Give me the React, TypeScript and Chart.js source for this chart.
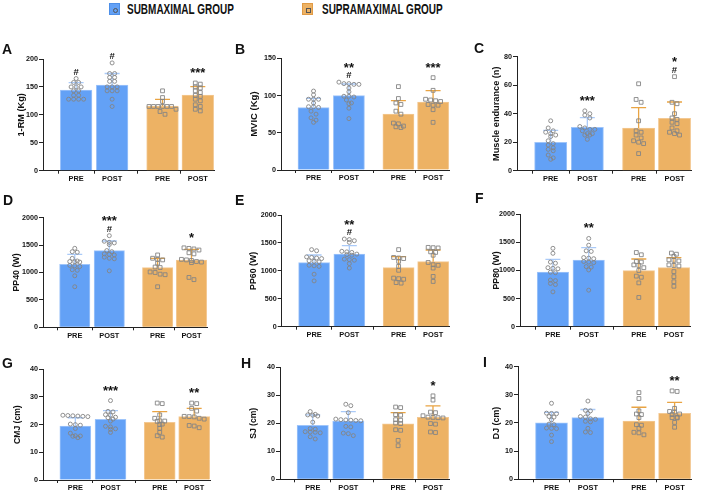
import React, { useEffect, useRef } from "react";
import { Chart, registerables } from "chart.js";

Chart.register(...registerables);

// ---------------- data ----------------
const CATEGORIES = ["PRE", "POST", "PRE", "POST"];
const X_POS = [0, 1, 2.4, 3.38];
const GROUPS = ["SUBMAXIMAL GROUP", "SUPRAMAXIMAL GROUP"];
const LETTERS = ["A", "B", "C", "D", "E", "F", "G", "H", "I"];
const Y_TITLES = ["1-RM (Kg)", "MVIC (Kg)", "Muscle endurance (n)", "PP40 (W)", "PP60 (W)", "PP80 (W)", "CMJ (cm)", "SJ (cm)", "DJ (cm)"];
const Y_MAX = [200, 150, 80, 2000, 2000, 2000, 40, 40, 40];
const Y_STEP = [50, 50, 20, 500, 500, 500, 10, 10, 10];

// A: 1-RM
const A_MEAN = [144.5, 153.4, 115.8, 135.5];
const A_SD = [13.1, 20.6, 12, 14.9];
const A_SUB_PRE = [165, 158, 158, 150, 150, 150, 143, 143, 135, 135, 128, 128, 128, 128];
const A_SUB_POST = [193, 174, 174, 167, 167, 160, 160, 150, 150, 150, 143, 143, 143, 128, 115];
const A_SUP_PRE = [143, 131, 124, 115, 115, 115, 115, 115, 115, 110, 106, 101];
const A_SUP_POST = [157, 155, 150, 148, 143, 140, 135, 133, 128, 125, 118, 115, 110, 107];
const A_MARKS = ["#", "#", "", "***"];

// B: MVIC
const B_MEAN = [83.7, 99.9, 75.2, 91.3];
const B_SD = [12.6, 15.6, 17.9, 15.3];
const B_SUB_PRE = [106, 101, 95, 95, 95, 90, 85, 85, 84, 79, 75, 70, 67, 64];
const B_SUB_POST = [118, 116, 116, 115, 115, 110, 105, 99, 99, 98, 94, 90, 89, 83, 69];
const B_SUP_PRE = [112, 96, 90, 88, 79, 75, 63, 62, 59, 58, 57];
const B_SUP_POST = [124, 107, 95, 94, 93, 92, 88, 87, 87, 81, 64];
const B_MARKS = ["", "**\n#", "", "***"];

// C: Muscle endurance
const C_MEAN = [19.9, 30.4, 29.9, 36.7];
const C_SD = [8.4, 6.8, 14.3, 11.5];
const C_SUB_PRE = [35, 30, 28, 27, 26, 25, 24, 21, 19, 18, 16, 15, 14, 11, 9, 8];
const C_SUB_POST = [42, 40, 39, 37, 31, 30, 29, 29, 28, 26, 26, 25, 25, 22];
const C_SUP_PRE = [61, 50, 48, 35, 28, 27, 25, 23, 21, 20, 19, 12];
const C_SUP_POST = [66, 48, 47, 40, 37, 36, 34, 33, 30, 28, 27, 26, 25];
const C_MARKS = ["", "***", "", "*\n#"];

// D: PP40
const D_MEAN = [1149, 1398, 1088, 1228];
const D_SD = [183, 177, 170, 195];
const D_SUB_PRE = [1441, 1380, 1370, 1258, 1210, 1200, 1195, 1190, 1130, 1120, 1110, 1050, 1040, 940, 740];
const D_SUB_POST = [1672, 1570, 1550, 1540, 1510, 1400, 1380, 1340, 1330, 1320, 1280, 1260, 1250, 1030];
const D_SUP_PRE = [1320, 1260, 1240, 1230, 1170, 1100, 1090, 1010, 1000, 970, 960, 740];
const D_SUP_POST = [1450, 1440, 1430, 1410, 1360, 1340, 1240, 1230, 1220, 1200, 1190, 1180, 910, 870];
const D_MARKS = ["", "***\n#", "", "*"];

// E: PP60
const E_MEAN = [1146, 1301, 1057, 1164];
const E_SD = [138, 150, 197, 209];
const E_SUB_PRE = [1380, 1360, 1250, 1240, 1230, 1220, 1180, 1170, 1160, 1100, 1090, 1080, 940, 820];
const E_SUB_POST = [1570, 1560, 1540, 1510, 1350, 1340, 1330, 1300, 1290, 1280, 1210, 1200, 1190, 1130, 1050];
const E_SUP_PRE = [1380, 1240, 1230, 1220, 1170, 1080, 1010, 870, 860, 850, 790, 780];
const E_SUP_POST = [1420, 1415, 1410, 1340, 1330, 1280, 1150, 1110, 1100, 1050, 900, 810];
const E_MARKS = ["", "**\n#", "", ""];

// F: PP80
const F_MEAN = [973, 1187, 997, 1050];
const F_SD = [226, 220, 208, 179];
const F_SUB_PRE = [1395, 1306, 1150, 1130, 1050, 1040, 1030, 970, 960, 830, 820, 770, 750, 620];
const F_SUB_POST = [1570, 1450, 1350, 1340, 1230, 1220, 1210, 1160, 1150, 1140, 1070, 1060, 1010, 650];
const F_SUP_PRE = [1320, 1280, 1160, 1150, 1100, 1090, 1050, 1000, 900, 880, 780, 520];
const F_SUP_POST = [1310, 1290, 1250, 1190, 1180, 1170, 1100, 1090, 1080, 980, 890, 800, 720];
const F_MARKS = ["", "**", "", ""];

// G: CMJ
const G_MEAN = [19.5, 21.9, 20.8, 22.9];
const G_SD = [3.0, 3.2, 3.9, 3.0];
const G_SUB_PRE = [23.4, 23.3, 23.2, 23.1, 23.0, 22.9, 20.2, 20.0, 19.8, 18.6, 16.9, 16.0, 15.9, 15.8, 15.3];
const G_SUB_POST = [28.7, 24.8, 24.6, 23.6, 23.4, 22.7, 22.5, 22.0, 21.3, 19.4, 19.2, 18.5, 18.3, 17.2];
const G_SUP_PRE = [27.8, 27.6, 23.5, 22.3, 21.4, 21.3, 21.2, 20.2, 20.0, 18.7, 17.2, 16.0, 15.5];
const G_SUP_POST = [27.8, 27.6, 25.9, 24.9, 23.0, 22.9, 22.8, 22.3, 22.0, 19.7, 19.5, 18.9];
const G_MARKS = ["", "***", "", "**"];

// H: SJ
const H_MEAN = [19.3, 20.8, 19.8, 22.1];
const H_SD = [3.7, 3.4, 4.0, 4.1];
const H_SUB_PRE = [24.2, 23.2, 23.0, 22.9, 22.6, 20.4, 18.1, 17.9, 17.0, 16.9, 16.8, 16.6, 15.2, 14.4];
const H_SUB_POST = [26.8, 26.3, 23.8, 21.5, 21.3, 21.2, 21.1, 21.0, 20.9, 18.9, 18.7, 16.5, 16.3, 15.6];
const H_SUP_PRE = [25.8, 25.6, 23.1, 22.9, 21.3, 21.1, 20.1, 19.9, 17.7, 17.5, 13.9, 12.0];
const H_SUP_POST = [29.8, 28.3, 24.0, 23.8, 22.7, 22.2, 22.1, 22.0, 21.9, 19.9, 19.7, 16.9, 16.7];
const H_MARKS = ["", "", "", "*"];

// I: DJ
const I_MEAN = [20.1, 21.9, 20.7, 23.4];
const I_SD = [3.7, 2.9, 4.9, 3.9];
const I_SUB_PRE = [27.0, 23.5, 23.4, 23.3, 22.3, 22.1, 21.1, 19.6, 19.4, 18.2, 18.1, 18.0, 15.7, 13.4];
const I_SUB_POST = [27.8, 24.5, 24.3, 23.4, 22.3, 22.1, 21.5, 21.3, 20.6, 20.4, 18.1, 16.8, 16.6];
const I_SUP_PRE = [30.8, 28.7, 24.3, 23.2, 23.0, 21.9, 19.4, 19.2, 18.1, 16.7, 16.5, 15.8];
const I_SUP_POST = [31.4, 31.2, 25.2, 24.1, 23.9, 23.2, 23.0, 22.0, 21.9, 21.8, 20.2, 18.5];
const I_MARKS = ["", "", "", "**"];

// ---------------- styles / layout ----------------
const FONT = '"Liberation Sans", Arial, Helvetica, sans-serif';
const BLUE = "#63a1f6";
const BLUE_EDGE = "#9fc5fa";
const ORANGE = "#edb264";
const ORANGE_EDGE = "#f3c892";
const BLUE_ERR = "#aacaf8";
const ORANGE_ERR = "#e9a443";
const PT = "#858585";
const AXIS = "#222";
const INK = "#111";
const X_MIN = -0.92;
const X_MAX = 3.83;

Chart.defaults.font.family = FONT;
Chart.defaults.color = INK;

type Layout = { left: number; top: number; w: number; h: number; leftW: number; rightPad: number; topPad: number; bottomH: number; titleX: number; titleSize: number; letterX: number; letterY: number };

const LAYOUTS: Layout[] = [
  { left: 0, top: 40, w: 236, h: 150, leftW: 43, rightPad: 22, topPad: 19, bottomH: 19.3, titleX: 21, titleSize: 9.2, letterX: 2, letterY: 44 },
  { left: 236, top: 40, w: 236, h: 150, leftW: 45, rightPad: 23, topPad: 18.3, bottomH: 20, titleX: 18, titleSize: 9.5, letterX: 235, letterY: 44 },
  { left: 472, top: 40, w: 236, h: 150, leftW: 45, rightPad: 17, topPad: 16.7, bottomH: 19.3, titleX: 24, titleSize: 9.2, letterX: 474, letterY: 43 },
  { left: 0, top: 190, w: 236, h: 150, leftW: 43, rightPad: 29, topPad: 27.7, bottomH: 12.7, titleX: 17, titleSize: 8.8, letterX: 3, letterY: 195 },
  { left: 236, top: 190, w: 236, h: 150, leftW: 45.7, rightPad: 23, topPad: 25, bottomH: 13.3, titleX: 18, titleSize: 8.8, letterX: 235, letterY: 195 },
  { left: 472, top: 190, w: 236, h: 150, leftW: 48, rightPad: 18, topPad: 24.3, bottomH: 13.3, titleX: 25, titleSize: 8.8, letterX: 475, letterY: 193 },
  { left: 0, top: 340, w: 236, h: 151, leftW: 43, rightPad: 26, topPad: 29.3, bottomH: 11, titleX: 18, titleSize: 8.6, letterX: 2, letterY: 358 },
  { left: 236, top: 340, w: 236, h: 151, leftW: 44, rightPad: 23, topPad: 27.3, bottomH: 11.7, titleX: 18, titleSize: 8.6, letterX: 241, letterY: 358 },
  { left: 472, top: 340, w: 236, h: 151, leftW: 46, rightPad: 17, topPad: 26.7, bottomH: 11.7, titleX: 25, titleSize: 8.8, letterX: 483, letterY: 357 },
];

const MEANS = [A_MEAN, B_MEAN, C_MEAN, D_MEAN, E_MEAN, F_MEAN, G_MEAN, H_MEAN, I_MEAN];
const SDS = [A_SD, B_SD, C_SD, D_SD, E_SD, F_SD, G_SD, H_SD, I_SD];
const POINTS = [
  [A_SUB_PRE, A_SUB_POST, A_SUP_PRE, A_SUP_POST],
  [B_SUB_PRE, B_SUB_POST, B_SUP_PRE, B_SUP_POST],
  [C_SUB_PRE, C_SUB_POST, C_SUP_PRE, C_SUP_POST],
  [D_SUB_PRE, D_SUB_POST, D_SUP_PRE, D_SUP_POST],
  [E_SUB_PRE, E_SUB_POST, E_SUP_PRE, E_SUP_POST],
  [F_SUB_PRE, F_SUB_POST, F_SUP_PRE, F_SUP_POST],
  [G_SUB_PRE, G_SUB_POST, G_SUP_PRE, G_SUP_POST],
  [H_SUB_PRE, H_SUB_POST, H_SUP_PRE, H_SUP_POST],
  [I_SUB_PRE, I_SUB_POST, I_SUP_PRE, I_SUP_POST],
];
const MARKS = [A_MARKS, B_MARKS, C_MARKS, D_MARKS, E_MARKS, F_MARKS, G_MARKS, H_MARKS, I_MARKS];

// row-binned scatter (GraphPad-like): x offsets derived from the values
function swarm(values: number[], center: number, binVal: number, step: number, maxSpan: number) {
  const idx = values.map((_, i) => i).sort((a, b) => values[b] - values[a]);
  const xs: number[] = new Array(values.length).fill(center);
  let i = 0;
  while (i < idx.length) {
    const row = [idx[i]];
    let j = i + 1;
    while (j < idx.length && values[idx[i]] - values[idx[j]] < binVal) {
      row.push(idx[j]);
      j++;
    }
    const n = row.length;
    const st = n > 1 ? Math.min(step, maxSpan / (n - 1)) : 0;
    row.forEach((k, r) => {
      xs[k] = center + (r - (n - 1) / 2) * st;
    });
    i = j;
  }
  return xs;
}

function buildChart(canvas: HTMLCanvasElement, pi: number) {
  const L = LAYOUTS[pi];
  const mean = MEANS[pi];
  const sd = SDS[pi];
  const pts = POINTS[pi];
  const marks = MARKS[pi];
  const yMax = Y_MAX[pi];
  const plotW = L.w - L.leftW - L.rightPad;
  const unit = plotW / (X_MAX - X_MIN);
  const plotH = L.h - L.topPad - L.bottomH;
  const binVal = (yMax * 3) / plotH;
  const step = 5 / unit;
  const maxSpan = 27 / unit;
  const sub: { x: number; y: number }[] = [];
  const sup: { x: number; y: number }[] = [];
  pts.forEach((vals, i) => {
    const xs = swarm(vals, X_POS[i], binVal, step, maxSpan);
    vals.forEach((v, k) => (i < 2 ? sub : sup).push({ x: xs[k], y: v }));
  });

  const plugin = {
    id: "errorsAndMarks",
    afterDatasetDraw(chart: any, args: any) {
      if (args.index !== 0) return;
      const { ctx } = chart;
      const xs = chart.scales.x;
      const ys = chart.scales.y;
      ctx.save();
      ctx.lineWidth = 1.3;
      mean.forEach((m, i) => {
        const px = xs.getPixelForValue(X_POS[i]);
        const y0 = ys.getPixelForValue(m);
        const y1 = ys.getPixelForValue(m + sd[i]);
        ctx.strokeStyle = i < 2 ? BLUE_ERR : ORANGE_ERR;
        ctx.beginPath();
        ctx.moveTo(px, y0);
        ctx.lineTo(px, y1);
        ctx.moveTo(px - 7.5, y1);
        ctx.lineTo(px + 7.5, y1);
        ctx.stroke();
      });
      ctx.restore();
    },
    afterDatasetsDraw(chart: any) {
      const { ctx } = chart;
      const xs = chart.scales.x;
      const ys = chart.scales.y;
      ctx.save();
      ctx.fillStyle = INK;
      ctx.textAlign = "center";
      ctx.textBaseline = "alphabetic";
      marks.forEach((mk, i) => {
        if (!mk) return;
        const topVal = Math.max(mean[i] + sd[i], ...pts[i]);
        const top = ys.getPixelForValue(topVal);
        const px = xs.getPixelForValue(X_POS[i]);
        const lines = mk.split("\n").reverse();
        let center = 0;
        lines.forEach((ln, k) => {
          const star = ln.includes("*");
          if (k === 0) center = top - (star ? 12.5 : 7);
          else center -= 9.8;
          ctx.font = `bold ${star ? 13 : 9.5}px ${FONT}`;
          const m = ctx.measureText(ln);
          const base = center + (m.actualBoundingBoxAscent - m.actualBoundingBoxDescent) / 2;
          ctx.fillText(ln, px, base);
        });
      });
      ctx.restore();
    },
  };

  return new Chart(canvas, {
    type: "bar",
    data: {
      datasets: [
        {
          type: "bar",
          data: X_POS.map((xv, i) => ({ x: xv, y: mean[i] })) as any,
          backgroundColor: [BLUE, BLUE, ORANGE, ORANGE],
          borderColor: [BLUE_EDGE, BLUE_EDGE, ORANGE_EDGE, ORANGE_EDGE],
          borderWidth: 1,
          barThickness: unit * 0.88,
          order: 2,
        } as any,
        {
          type: "scatter",
          data: sub,
          pointStyle: "circle",
          pointRadius: 2.0,
          pointBorderWidth: 0.9,
          pointBorderColor: PT,
          pointBackgroundColor: "rgba(0,0,0,0)",
          order: 0,
        } as any,
        {
          type: "scatter",
          data: sup,
          pointStyle: "rect",
          pointRadius: 2.7,
          pointBorderWidth: 0.9,
          pointBorderColor: PT,
          pointBackgroundColor: "rgba(0,0,0,0)",
          order: 0,
        } as any,
      ],
    },
    options: {
      responsive: false,
      animation: false,
      events: [],
      layout: { padding: { left: 0, right: L.rightPad, top: L.topPad, bottom: 0 } },
      plugins: { legend: { display: false }, tooltip: { enabled: false } },
      scales: {
        x: {
          type: "linear",
          min: X_MIN,
          max: X_MAX,
          offset: false,
          afterBuildTicks: (s: any) => {
            s.ticks = X_POS.map((v) => ({ value: v }));
          },
          afterFit: (s: any) => {
            s.height = L.bottomH;
          },
          ticks: {
            autoSkip: false,
            maxRotation: 0,
            padding: 1,
            color: INK,
            font: { size: 7.4, weight: "bold" },
            callback: (_v: any, i: number) => CATEGORIES[i],
          },
          grid: { display: true, drawOnChartArea: false, drawTicks: true, tickLength: 3, color: AXIS, lineWidth: 1 },
          border: { display: true, color: AXIS, width: 1 },
        } as any,
        y: {
          min: 0,
          max: yMax,
          afterFit: (s: any) => {
            s.width = L.leftW;
          },
          ticks: {
            stepSize: Y_STEP[pi],
            padding: 1,
            color: INK,
            font: { size: 7.2, weight: "bold" },
            callback: (v: any) => String(v),
          },
          grid: { display: true, drawOnChartArea: false, drawTicks: true, tickLength: 4, color: AXIS, lineWidth: 1 },
          border: { display: true, color: AXIS, width: 1 },
          title: {
            display: true,
            text: Y_TITLES[pi],
            color: INK,
            font: { size: L.titleSize, weight: "bold" },
            padding: { top: L.titleX - (L.titleSize * 1.2) / 2, bottom: 0 },
          },
        } as any,
      },
    },
    plugins: [plugin],
  } as any);
}

function Panel({ index }: { index: number }) {
  const ref = useRef<HTMLCanvasElement>(null);
  const L = LAYOUTS[index];
  useEffect(() => {
    if (!ref.current) return;
    const chart = buildChart(ref.current, index);
    return () => chart.destroy();
  }, [index]);
  return (
    <>
      <canvas
        ref={ref}
        width={L.w}
        height={L.h}
        style={{ position: "absolute", left: L.left, top: L.top, width: L.w, height: L.h }}
      />
      <div
        style={{
          position: "absolute",
          left: L.letterX,
          top: L.letterY - 2,
          font: `bold 14px ${FONT}`,
          lineHeight: "14px",
          color: INK,
        }}
      >
        {LETTERS[index]}
      </div>
    </>
  );
}

function LegendItem({ x, textX, color, edge, square, label }: { x: number; textX: number; color: string; edge: string; square: boolean; label: string }) {
  return (
    <>
      <div
        style={{
          position: "absolute",
          left: x,
          top: 3,
          width: 11,
          height: 12,
          boxSizing: "border-box",
          background: color,
          border: `1px solid ${edge}`,
        }}
      >
        <div
          style={{
            position: "absolute",
            left: 3,
            top: 3.5,
            width: 3,
            height: 3,
            border: "1px solid #555",
            borderRadius: square ? 0 : "50%",
          }}
        />
      </div>
      <div
        style={{
          position: "absolute",
          left: textX,
          top: 2,
          font: `bold 14px ${FONT}`,
          lineHeight: "14px",
          color: INK,
          whiteSpace: "nowrap",
          transform: "scaleX(0.713)",
          transformOrigin: "0 0",
        }}
      >
        {label}
      </div>
    </>
  );
}

export default function App() {
  return (
    <div style={{ position: "absolute", left: 0, top: 0, width: 708, height: 491, background: "#fff", overflow: "hidden" }}>
      <LegendItem x={109} textX={127} color={BLUE} edge="#4d8fe8" square={false} label={GROUPS[0]} />
      <LegendItem x={301.5} textX={322} color={ORANGE} edge="#e09a45" square={true} label={GROUPS[1]} />
      {LAYOUTS.map((_, i) => (
        <Panel key={i} index={i} />
      ))}
    </div>
  );
}
